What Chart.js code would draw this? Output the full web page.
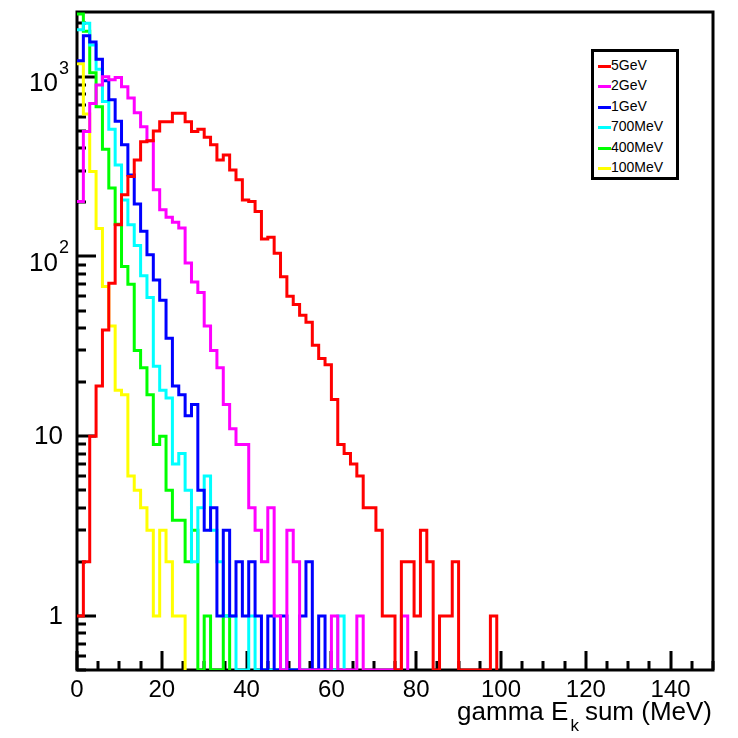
<!DOCTYPE html>
<html>
<head>
<meta charset="utf-8">
<title>gamma Ek sum</title>
<script src="https://cdn.jsdelivr.net/npm/chart.js@4.4.1/dist/chart.umd.min.js"></script>
<style>
  html, body { margin: 0; padding: 0; background: #fff; }
  #wrap { position: relative; width: 738px; height: 738px; }
  #legend { position: absolute; left: 591px; top: 49px; width: 82px; height: 125px;
            border: 3px solid #000; background: #fff;
            font-family: 'Liberation Sans', Arial, Helvetica, sans-serif; font-size: 14px; color: #000; }
  .row { position: absolute; left: 0; width: 82px; height: 20px; line-height: 20px; }
  .row i { position: absolute; left: 4px; top: 10px; width: 13px; height: 3px; }
  .row span { position: absolute; left: 17px; top: 0; white-space: nowrap; }
  #xtitle { position: absolute; right: 26px; top: 696px; white-space: nowrap; color: #000;
            font-family: 'Liberation Sans', Arial, Helvetica, sans-serif; font-size: 26px; }
  #xtitle sub { font-size: 17px; vertical-align: -11px; margin: 0 6px 0 2px; }
</style>
</head>
<body>
<div id="wrap">
  <canvas id="chart" width="738" height="738"></canvas>
  <div id="legend"></div>
  <div id="xtitle">gamma E<sub>k</sub>sum (MeV)</div>
</div>
<script>
(function(){
  // histogram binning: 100 bins of 1.5 MeV from 0 to 150
  const BIN_WIDTH = 1.5;
  const X_MIN = 0, X_MAX = 150;
  const Y_MIN = 0.5, Y_MAX = 2290;

  const labels = ['5GeV', '2GeV', '1GeV', '700MeV', '400MeV', '100MeV'];
  const colors = ['#ff0000', '#ff00ff', '#0000ff', '#00ffff', '#00ff00', '#ffff00'];

  // counts per bin, first bin at 0 MeV; bins past the end of each list are empty
  const counts5GeV = [1, 2, 10, 19, 39, 71, 150, 220, 278, 344, 435, 440, 499, 562, 562, 625, 625, 562,
    495, 510, 460, 418, 344, 367, 303, 267, 206, 202, 178, 125, 128, 104, 77, 60, 54, 47, 43, 32, 27, 25,
    16, 9, 8, 7, 6, 4, 4, 3, 1, 1, 0, 2, 2, 1, 3, 2, 0, 1, 1, 2, 0, 0, 0, 0, 0, 1];
  const counts2GeV = [202, 495, 710, 900, 1000, 960, 990, 880, 760, 630, 527, 440, 235, 182, 165, 155,
    144, 92, 72, 63, 41, 30, 24, 15, 11, 9, 9, 4, 3, 2, 4, 1, 0, 3, 2, 0, 0, 0, 0, 0, 1, 0, 0, 0, 1,
    0, 0, 0, 0, 0, 0, 1];
  const counts1GeV = [1225, 1690, 1560, 1250, 950, 745, 565, 418, 284, 196, 138, 102, 74, 57, 35, 19,
    17, 13, 15, 5, 3, 4, 1, 3, 1, 2, 1, 2, 1, 0, 1, 0, 1, 0, 0, 1, 2, 0, 1];
  const counts700MeV = [1825, 1980, 1500, 1100, 727, 510, 323, 206, 150, 115, 78, 59, 24.5, 18, 16.3,
    7, 8, 5, 2, 4, 6, 3, 2, 1, 1, 0, 0, 1, 0, 0, 0, 0, 0, 0, 0, 0, 0, 0, 0, 0, 0, 1];
  const counts400MeV = [2230, 1790, 1050, 680, 395, 240, 151, 88, 70, 30, 24, 17, 9, 10, 5, 3.4, 3.4,
    2, 3, 0, 1, 0, 0, 1];
  const counts100MeV = [1180, 620, 297, 143, 68, 41, 18, 17, 6, 5, 4, 3, 1, 3, 2, 1, 1];

  const series = [counts5GeV, counts2GeV, counts1GeV, counts700MeV, counts400MeV, counts100MeV];

  const xTicks = [0, 20, 40, 60, 80, 100, 120, 140];
  const yTicks = [1, 10, 100, 1000];
  // [base, exponent] for each y tick label
  const yTickLabels = [['1', ''], ['10', ''], ['10', '2'], ['10', '3']];

  const FONT = "'Liberation Sans', Arial, Helvetica, sans-serif";

  // empty bins sit on the bottom of the frame, like ROOT does on a log axis
  function steps(counts) {
    const pts = counts.map((c, i) => ({ x: X_MIN + i * BIN_WIDTH, y: c > 0 ? c : Y_MIN }));
    pts.push({ x: X_MIN + counts.length * BIN_WIDTH, y: Y_MIN });
    return pts;
  }

  // ROOT style frame with ticks on the inside, and 10^n labels with a real superscript
  const rootFrame = {
    id: 'rootFrame',
    beforeDatasetsDraw(chart) {
      const { ctx, chartArea: a, scales: { x, y } } = chart;
      ctx.save();
      ctx.strokeStyle = '#000';
      ctx.lineWidth = 3;
      ctx.strokeRect(a.left, a.top, a.right - a.left, a.bottom - a.top);
      ctx.beginPath();
      for (let v = X_MIN; v <= X_MAX; v += 5) {
        const px = Math.round(x.getPixelForValue(v));
        const len = v % 20 === 0 ? 19 : 9;
        ctx.moveTo(px, a.bottom);
        ctx.lineTo(px, a.bottom - len);
      }
      for (let d = 0.1; d <= 1000; d *= 10) {
        for (let m = 1; m <= 9; m++) {
          const v = m * d;
          if (v < Y_MIN || v > Y_MAX) continue;
          const py = Math.round(y.getPixelForValue(v));
          const len = m === 1 ? 19 : 9;
          ctx.moveTo(a.left, py);
          ctx.lineTo(a.left + len, py);
        }
      }
      ctx.stroke();

      ctx.fillStyle = '#000';
      ctx.textBaseline = 'middle';
      yTicks.forEach((t, i) => {
        const py = y.getPixelForValue(t);
        const [base, exp] = yTickLabels[i];
        ctx.font = '26px ' + FONT;
        ctx.textAlign = 'right';
        if (exp) {
          ctx.fillText(base, 58, py + 7);
          ctx.font = '18px ' + FONT;
          ctx.textAlign = 'left';
          ctx.fillText(exp, 59, py - 8);
        } else {
          ctx.fillText(base, 63, py + 1);
        }
      });
      ctx.restore();
    }
  };

  const ctx = document.getElementById('chart').getContext('2d');
  new Chart(ctx, {
    type: 'line',
    data: {
      datasets: series.map((s, i) => ({
        label: labels[i],
        data: steps(s),
        borderColor: colors[i],
        backgroundColor: colors[i],
        borderWidth: 3,
        stepped: true,
        pointRadius: 0,
        fill: false,
        borderJoinStyle: 'miter'
      }))
    },
    options: {
      responsive: false,
      animation: false,
      layout: { padding: { top: 12, right: 25, left: 0, bottom: 0 } },
      plugins: { legend: { display: false }, tooltip: { enabled: false } },
      scales: {
        x: {
          type: 'linear', min: X_MIN, max: X_MAX,
          grid: { display: false, drawTicks: false },
          border: { display: false },
          afterFit: s => { s.height = 68; },
          afterBuildTicks: s => { s.ticks = xTicks.map(v => ({ value: v })); },
          ticks: { color: '#000', font: { family: FONT, size: 24 }, padding: 6, maxRotation: 0, autoSkip: false }
        },
        y: {
          type: 'logarithmic', min: Y_MIN, max: Y_MAX,
          grid: { display: false, drawTicks: false },
          border: { display: false },
          afterFit: s => { s.width = 77; },
          afterBuildTicks: s => { s.ticks = yTicks.map(v => ({ value: v })); },
          ticks: { display: false }
        }
      }
    },
    plugins: [rootFrame]
  });

  // legend box
  const legend = document.getElementById('legend');
  labels.forEach((l, i) => {
    const row = document.createElement('div');
    row.className = 'row';
    row.style.top = (3 + i * 20.4) + 'px';
    row.innerHTML = '<i style="background:' + colors[i] + '"></i><span>' + l + '</span>';
    legend.appendChild(row);
  });
})();
</script>
</body>
</html>
